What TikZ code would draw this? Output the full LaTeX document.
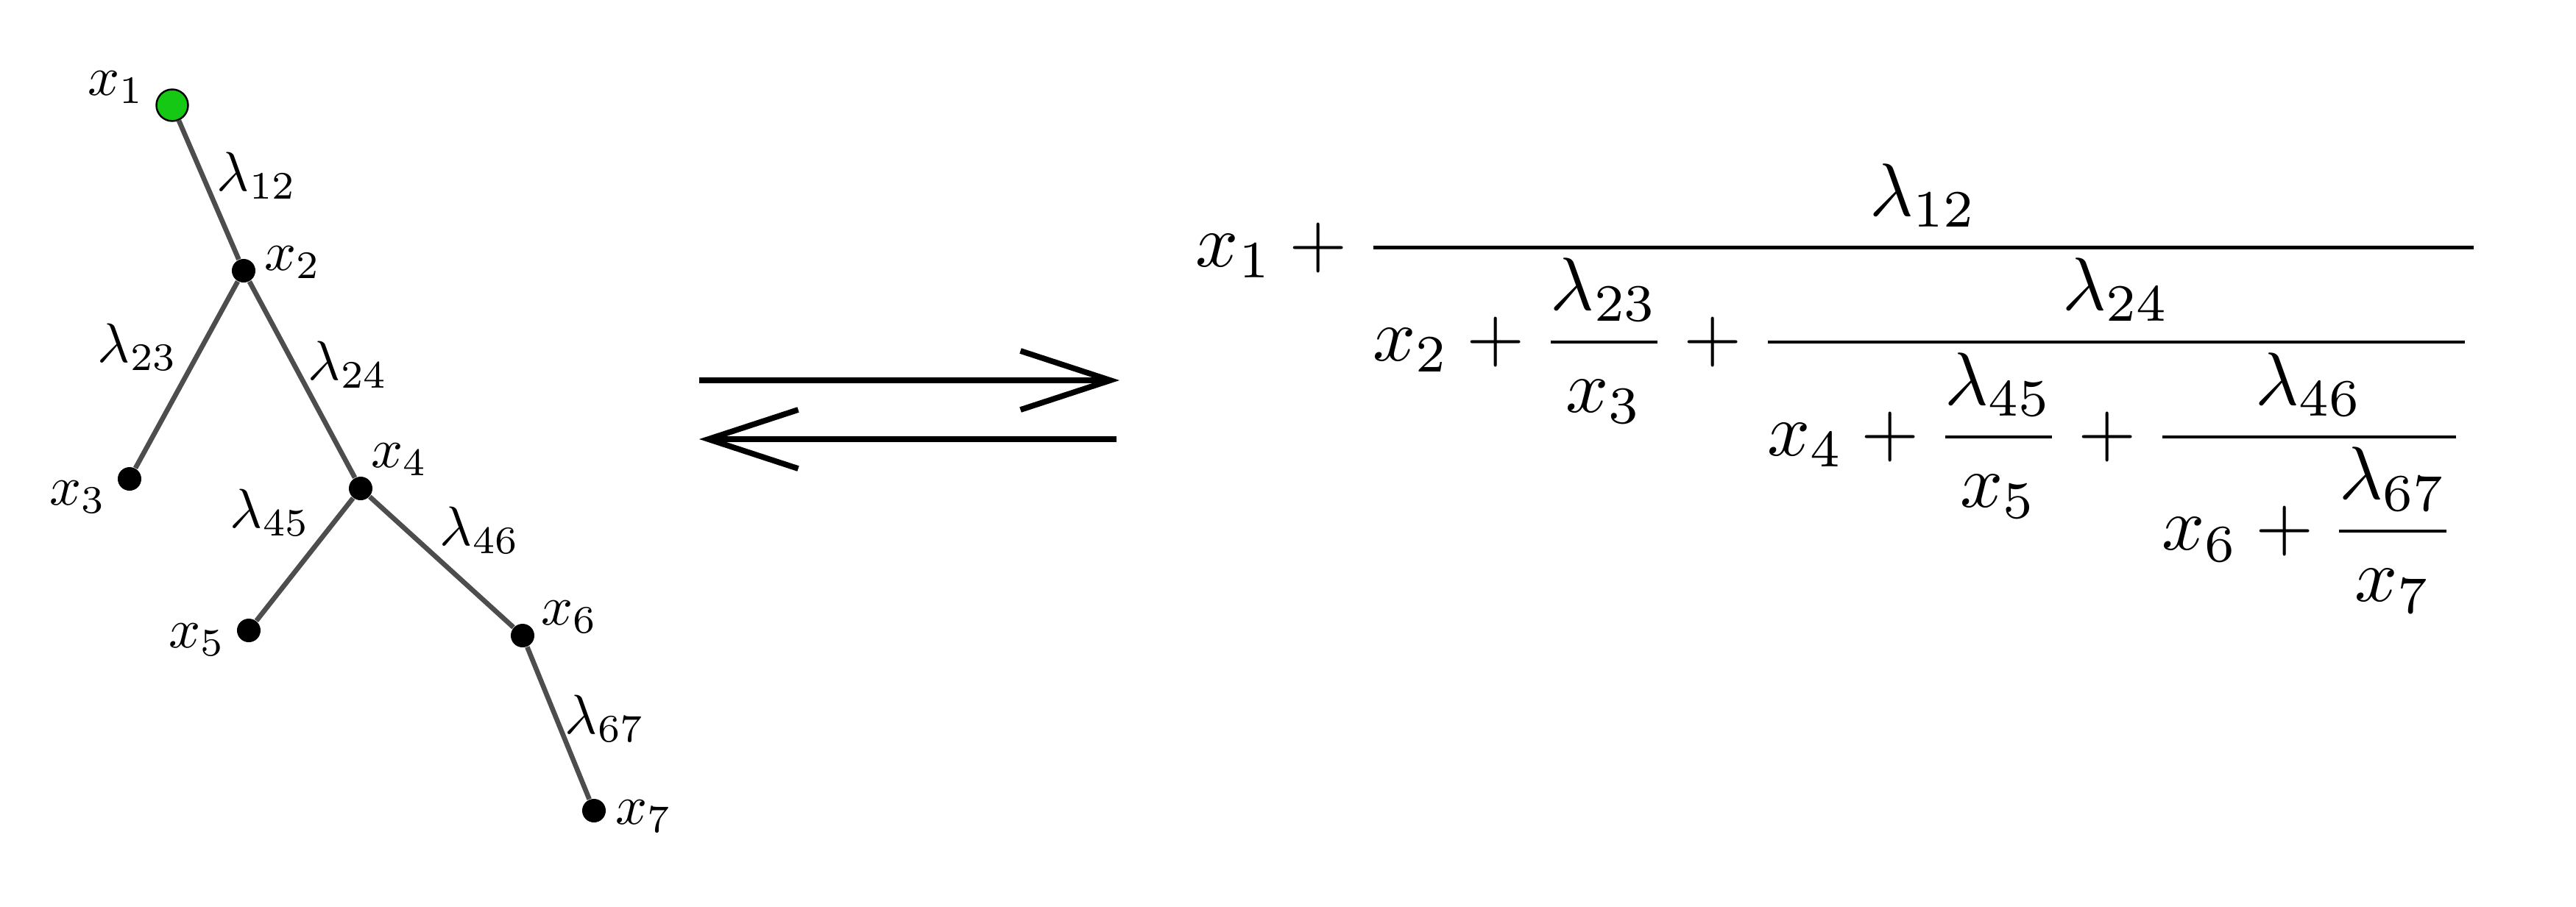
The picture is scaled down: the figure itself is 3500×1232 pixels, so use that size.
\documentclass[tikz,border=0pt]{standalone}
\usepackage{amsmath}
\usepackage{graphicx}
\usetikzlibrary{arrows.meta}
\definecolor{edgegray}{RGB}{77,77,77}
\definecolor{rootgreen}{RGB}{20,200,20}
\newcommand{\treelbl}[1]{\scalebox{2.15}{$#1$}}
\tikzset{
  vert/.style={circle, fill=black, inner sep=0pt, minimum size=0.32cm},
  rootvert/.style={circle, fill=rootgreen, draw=black, line width=0.7pt, inner sep=0pt, minimum size=0.43cm},
  edge/.style={draw=edgegray, line width=1.9pt},
  lbl/.style={inner sep=0pt},
  eqarrow/.style={line width=2.2pt, -{Straight Barb[length=1.22cm, width=0.8cm, line width=2.2pt]}}
}
\begin{document}
\begin{tikzpicture}[x=0.01cm, y=-0.01cm]
\useasboundingbox (0,0) rectangle (3500,1232);
% vertices
\node[rootvert] (v1) at (234,143) {};
\node[vert] (v2) at (331,368) {};
\node[vert] (v3) at (176,651) {};
\node[vert] (v4) at (490,664) {};
\node[vert] (v5) at (338,857) {};
\node[vert] (v6) at (710,864) {};
\node[vert] (v7) at (807,1102) {};
% edges
\draw[edge] (v1) -- (v2);
\draw[edge] (v2) -- (v3);
\draw[edge] (v2) -- (v4);
\draw[edge] (v4) -- (v5);
\draw[edge] (v4) -- (v6);
\draw[edge] (v6) -- (v7);
% vertex labels
\node[lbl] (l1) at (158,119) {\treelbl{x_1}};
\node[lbl] (l2) at (398,357) {\treelbl{x_2}};
\node[lbl] (l3) at (106,676) {\treelbl{x_3}};
\node[lbl] (l4) at (543,625) {\treelbl{x_4}};
\node[lbl] (l5) at (268,870) {\treelbl{x_5}};
\node[lbl] (l6) at (774,839) {\treelbl{x_6}};
\node[lbl] (l7) at (875,1110) {\treelbl{x_7}};
% edge labels
\node[lbl] (e12) at (349,239) {\treelbl{\lambda_{12}}};
\node[lbl] (e23) at (187,472) {\treelbl{\lambda_{23}}};
\node[lbl] (e24) at (473,496) {\treelbl{\lambda_{24}}};
\node[lbl] (e45) at (367,697) {\treelbl{\lambda_{45}}};
\node[lbl] (e46) at (652,721) {\treelbl{\lambda_{46}}};
\node[lbl] (e67) at (822,977) {\treelbl{\lambda_{67}}};
% equilibrium arrows
\coordinate (a1s) at (950,517);
\coordinate (a1e) at (1521,517);
\coordinate (a2s) at (1517,597);
\coordinate (a2e) at (950,597);
\draw[eqarrow] (a1s) -- (a1e);
\draw[eqarrow] (a2s) -- (a2e);
% continued fraction
\node[anchor=base west, inner sep=0pt] (cf) at (1624,362)
 {\scalebox{2.9}{$\displaystyle x_1+\frac{\lambda_{12}}{x_2+\dfrac{\lambda_{23}}{x_3}+\dfrac{\lambda_{24}}{x_4+\dfrac{\lambda_{45}}{x_5}+\dfrac{\lambda_{46}}{x_6+\dfrac{\lambda_{67}}{x_7}}}}$}};
\end{tikzpicture}
\end{document}
